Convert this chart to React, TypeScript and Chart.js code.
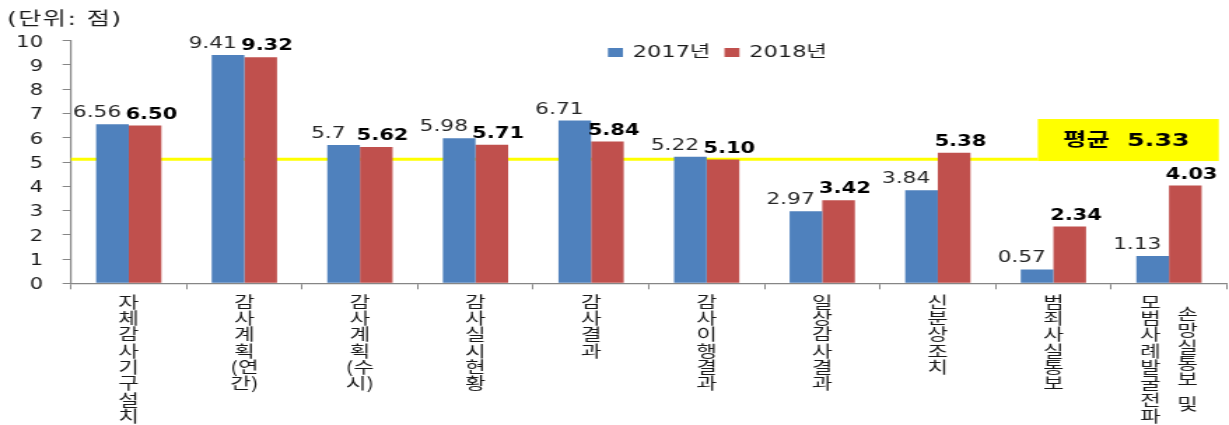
import React, { useEffect, useRef } from 'react';
import { Chart, registerables } from 'chart.js';

Chart.register(...registerables);

// ---- data ----
const categories: string[] = [
  '자체감사기구설치',
  '감사계획(연간)',
  '감사계획(수시)',
  '감사실시현황',
  '감사결과',
  '감사이행결과',
  '일상감사결과',
  '신분상조치',
  '범죄사실통보',
  '손망실통보 및\n모범사례발굴전파',
];
const seriesNames: string[] = ['2017년', '2018년'];
const values2017: number[] = [6.56, 9.41, 5.7, 5.98, 6.71, 5.22, 2.97, 3.84, 0.57, 1.13];
const values2018: number[] = [6.5, 9.32, 5.62, 5.71, 5.84, 5.1, 3.42, 5.38, 2.34, 4.03];
const yMin = 0;
const yMax = 10;
const yStep = 1;
const unitLabel = '(단위: 점)';
const avgValue = 5.33;
const avgLabel = '평균  ' + avgValue.toFixed(2);
const avgLineLevel = 5.11; // where the yellow line sits in the picture

// ---- styles ----
const BLUE = '#4F81BD';
const RED = '#C0504D';
const AXIS = '#868686';
const YELLOW = '#FFFF00';
const FONT_LATIN = "'DejaVu Sans', 'Noto Sans CJK KR', sans-serif";
const FONT_KR = "'Noto Sans CJK KR', 'DejaVu Sans', sans-serif";
const PAGE_W = 1229;
const PAGE_H = 425;
const INNER_W = 878;
const STRETCH = PAGE_W / INNER_W;

type Row = { text: string; h: number };

function splitRows(line: string): Row[] {
  const rows: Row[] = [];
  for (const ch of Array.from(line)) {
    const last = rows[rows.length - 1];
    if (ch === ')' && last) {
      last.text += ch;
      continue;
    }
    if (last && last.text.endsWith('(')) {
      last.text += ch;
      continue;
    }
    if (ch === ' ') {
      rows.push({ text: '', h: 0.5 });
      continue;
    }
    rows.push({ text: ch, h: 1 });
  }
  return rows;
}

const overlayPlugin = {
  id: 'overlay',
  beforeDatasetsDraw(chart: any) {
    const { ctx, chartArea, scales } = chart;
    const ly = scales.y.getPixelForValue(avgLineLevel);
    const boxLeft = chartArea.right - 135;
    const boxRight = chartArea.right - 5.7;
    const boxTop = ly - 40.3;
    const boxBottom = ly + 1.7;
    ctx.save();
    ctx.strokeStyle = YELLOW;
    ctx.lineWidth = 3;
    ctx.beginPath();
    ctx.moveTo(chartArea.left, ly);
    ctx.lineTo(boxLeft, ly);
    ctx.stroke();
    ctx.fillStyle = YELLOW;
    ctx.fillRect(boxLeft, boxTop, boxRight - boxLeft, boxBottom - boxTop);
    ctx.fillStyle = '#000';
    ctx.font = `bold 18px ${FONT_LATIN}`;
    ctx.textAlign = 'center';
    ctx.textBaseline = 'middle';
    ctx.fillText(avgLabel, (boxLeft + boxRight) / 2 - 1.4, (boxTop + boxBottom) / 2 + 1);
    ctx.restore();
  },
  afterDatasetsDraw(chart: any) {
    const { ctx } = chart;
    ctx.save();
    ctx.textAlign = 'center';
    ctx.textBaseline = 'alphabetic';
    chart.data.datasets.forEach((ds: any, di: number) => {
      const meta = chart.getDatasetMeta(di);
      meta.data.forEach((bar: any, i: number) => {
        const v = ds.data[i] as number;
        const txt = di === 0 ? String(v) : v.toFixed(2);
        ctx.font = di === 0 ? `15.5px ${FONT_LATIN}` : `bold 15px ${FONT_LATIN}`;
        ctx.fillStyle = di === 0 ? '#262626' : '#000';
        const off = di === 0 ? -11 : 4.5;
        ctx.fillText(txt, bar.x + off, bar.y - 7);
      });
    });
    ctx.restore();
  },
  afterDraw(chart: any) {
    const { ctx, chartArea, scales } = chart;
    ctx.save();
    // unit title
    ctx.fillStyle = '#1a1a1a';
    ctx.font = `18px ${FONT_LATIN}`;
    ctx.textAlign = 'left';
    ctx.textBaseline = 'middle';
    try {
      (ctx as any).letterSpacing = '1px';
    } catch (e) {}
    ctx.fillText(unitLabel, 5, 20);
    try {
      (ctx as any).letterSpacing = '0px';
    } catch (e) {}

    // legend
    const colors = [BLUE, RED];
    let lx = chartArea.left + 383.6;
    const ly = 52.5;
    ctx.font = `16px ${FONT_LATIN}`;
    seriesNames.forEach((name, i) => {
      ctx.fillStyle = colors[i];
      ctx.fillRect(lx, ly - 4.5, 10.7, 9);
      ctx.fillStyle = '#1a1a1a';
      ctx.textAlign = 'left';
      ctx.textBaseline = 'middle';
      const tx = lx + 17.8;
      ctx.fillText(name, tx, ly);
      lx = tx + ctx.measureText(name).width + 10;
    });

    // category labels: stacked characters, columns from right to left
    const pitch = 16.3;
    const colGap = 26.4;
    const top = chartArea.bottom + 10.2;
    ctx.font = `16px ${FONT_KR}`;
    ctx.fillStyle = '#1a1a1a';
    ctx.textAlign = 'center';
    ctx.textBaseline = 'middle';
    categories.forEach((label, i) => {
      const cx = scales.x.getPixelForValue(i);
      const cols = label.split('\n').map(splitRows);
      const heights = cols.map((rows) => rows.reduce((a, r) => a + r.h, 0) * pitch);
      const maxH = Math.max(...heights);
      cols.forEach((rows, j) => {
        const x = cx + ((cols.length - 1) / 2) * colGap - j * colGap;
        let yy = top + (maxH - heights[j]) / 2;
        rows.forEach((r) => {
          if (r.text) ctx.fillText(r.text, x, yy + (r.h * pitch) / 2);
          yy += r.h * pitch;
        });
      });
    });
    ctx.restore();
  },
};

export default function App() {
  const canvasRef = useRef<HTMLCanvasElement | null>(null);

  useEffect(() => {
    if (!canvasRef.current) return;
    const chart = new Chart(canvasRef.current, {
      type: 'bar',
      data: {
        labels: categories,
        datasets: [
          {
            label: seriesNames[0],
            data: values2017,
            backgroundColor: BLUE,
            borderWidth: 0,
            categoryPercentage: 0.565,
            barPercentage: 1,
          },
          {
            label: seriesNames[1],
            data: values2018,
            backgroundColor: RED,
            borderWidth: 0,
            categoryPercentage: 0.565,
            barPercentage: 1,
          },
        ],
      },
      options: {
        responsive: true,
        maintainAspectRatio: false,
        animation: false,
        layout: { padding: { top: 40.7, left: 10.7, right: 1.6, bottom: 135.7 } },
        plugins: {
          legend: { display: false },
          tooltip: { enabled: false },
          title: { display: false },
        },
        scales: {
          x: {
            grid: {
              drawOnChartArea: false,
              drawTicks: true,
              tickLength: 6,
              color: AXIS,
              offset: true,
            },
            border: { display: true, color: AXIS, width: 1.2 },
            ticks: { display: false },
            afterFit: (s: any) => {
              s.height = 6;
            },
          },
          y: {
            min: yMin,
            max: yMax,
            ticks: {
              stepSize: yStep,
              padding: 14,
              color: '#1a1a1a',
              labelOffset: 2,
              font: { family: FONT_LATIN, size: 15 },
            },
            grid: { drawOnChartArea: false, drawTicks: true, tickLength: 6, color: AXIS },
            border: { display: true, color: AXIS, width: 1.2 },
            afterFit: (s: any) => {
              s.width = 40;
            },
          },
        },
      },
      plugins: [overlayPlugin],
    });
    return () => chart.destroy();
  }, []);

  return (
    <div
      style={{
        position: 'fixed',
        left: 0,
        top: 0,
        width: PAGE_W,
        height: PAGE_H,
        overflow: 'hidden',
        background: '#fff',
      }}
    >
      <div
        style={{
          position: 'relative',
          width: INNER_W,
          height: PAGE_H,
          transform: `scaleX(${STRETCH})`,
          transformOrigin: '0 0',
        }}
      >
        <canvas ref={canvasRef} />
      </div>
    </div>
  );
}
